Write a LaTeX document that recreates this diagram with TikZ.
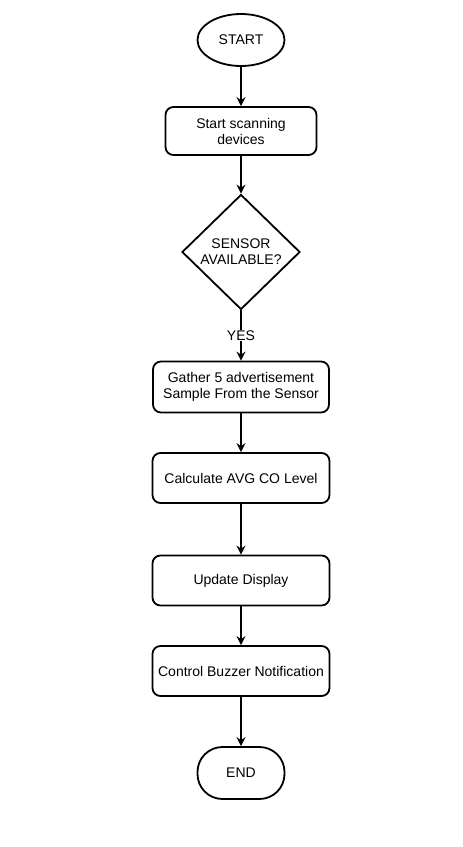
\documentclass[tikz,border=0pt]{standalone}
\usepackage{fontspec}
\setmainfont{Liberation Sans}
\usetikzlibrary{arrows.meta,shapes.geometric}

\begin{document}
\begin{tikzpicture}[->,>={Stealth[length=9pt,width=9pt,inset=3pt]},x=1pt,y=1pt,line width=1.2pt,
      every node/.style={font=\fontsize{14}{16}\selectfont,align=center},
      term/.style={draw,line width=1.8pt,minimum width=87pt,minimum height=52pt,inner sep=0pt},
      process/.style={draw,line width=1.8pt,rounded corners=8pt,minimum width=177pt,
        minimum height=50pt,inner sep=2pt},
      decision/.style={draw,line width=1.8pt,diamond,minimum width=118pt,minimum height=115pt,
        inner sep=0pt}]
    \useasboundingbox (0,0) rectangle (463,-847);
    \node[term,ellipse] (start) at (241,-40) {START};
    \node[process,minimum width=151pt,minimum height=48pt] (scan) [below of=start,node distance=91pt]
      {Start scanning\\devices};
    \node[decision] (avail) [below of=scan,node distance=121pt] {SENSOR\\AVAILABLE?};
    \node[process,minimum width=176pt,minimum height=51pt] (gather) [below of=avail,node distance=135pt]
      {Gather 5 advertisement\\Sample From the Sensor};
    \node[process] (calc) [below of=gather,node distance=91pt] {Calculate AVG CO Level};
    \node[process] (disp) [below of=calc,node distance=102.5pt] {Update Display};
    \node[process] (buzz) [below of=disp,node distance=90.5pt] {Control Buzzer Notification};
    \node[term,rectangle,rounded corners=25pt] (end) [below of=buzz,node distance=102pt] {END};
    \path (start) edge (scan)
    (scan) edge (avail)
    (avail) edge node[fill=white,inner sep=1pt] {YES} (gather)
    (gather) edge (calc)
    (calc) edge (disp)
    (disp) edge (buzz)
    (buzz) edge (end);
  \end{tikzpicture}
\end{document}
